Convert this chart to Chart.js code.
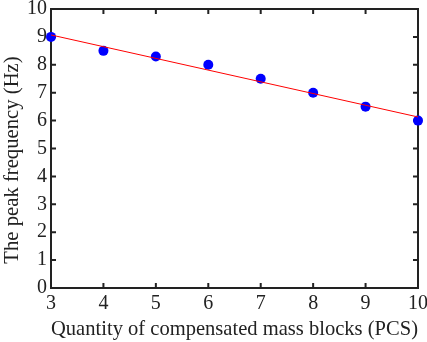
<!DOCTYPE html>
<html>
<head>
<meta charset="utf-8">
<script src="https://cdn.jsdelivr.net/npm/chart.js@4.4.0/dist/chart.umd.min.js"></script>
<style>
  html, body { margin: 0; padding: 0; background: #fff; }
  #wrap { width: 427px; height: 342px; }
</style>
</head>
<body>
<div id="wrap"><canvas id="chart"></canvas></div>
<script>
// measured points
const blocks = [3, 4, 5, 6, 7, 8, 9, 10]
const peakFreq = [9, 8.5, 8.3, 8, 7.5, 7, 6.5, 6]
// fitted line end points
const fitX = [3, 10]
const fitY = [9.07, 6.13]

const yTitle = 'The peak frequency (Hz)'
const serif = "'Liberation Serif', 'DejaVu Serif', serif"
const tickFont = { family: serif, size: 20 }
const titleFont = { family: serif, size: 20.7 }

// box around the plot with inward tick marks
const boxPlugin = {
  id: 'box',
  beforeDatasetsDraw(chart) {
    const { ctx, chartArea: a, scales } = chart
    ctx.save()
    ctx.strokeStyle = '#222'
    ctx.lineWidth = 2
    ctx.strokeRect(a.left, a.top, a.right - a.left, a.bottom - a.top)
    const len = 5
    ctx.beginPath()
    scales.x.ticks.forEach(t => {
      const px = scales.x.getPixelForValue(t.value)
      ctx.moveTo(px, a.bottom); ctx.lineTo(px, a.bottom - len)
      ctx.moveTo(px, a.top); ctx.lineTo(px, a.top + len)
    })
    scales.y.ticks.forEach(t => {
      const py = scales.y.getPixelForValue(t.value)
      ctx.moveTo(a.left, py); ctx.lineTo(a.left + len, py)
      ctx.moveTo(a.right, py); ctx.lineTo(a.right - len, py)
    })
    ctx.stroke()
    ctx.restore()
  },
  // y title sits a bit lower than the plot middle in the original
  afterDraw(chart) {
    const { ctx } = chart
    ctx.save()
    ctx.translate(13, 160)
    ctx.rotate(-Math.PI / 2)
    ctx.font = `${titleFont.size}px ${serif}`
    ctx.fillStyle = '#222'
    ctx.textAlign = 'center'
    ctx.textBaseline = 'middle'
    ctx.fillText(yTitle, 0, 0)
    ctx.restore()
  }
}

new Chart(document.getElementById('chart'), {
  type: 'scatter',
  data: {
    datasets: [
      {
        label: 'fit',
        data: fitX.map((x, i) => ({ x, y: fitY[i] })),
        showLine: true,
        borderColor: 'rgb(255, 0, 0)',
        borderWidth: 1,
        pointRadius: 0,
        clip: false,
      },
      {
        label: 'measured',
        data: blocks.map((x, i) => ({ x, y: peakFreq[i] })),
        backgroundColor: 'rgb(0, 0, 255)',
        borderColor: 'rgb(0, 0, 255)',
        pointRadius: 5,
        borderWidth: 0,
        clip: false,
      },
    ],
  },
  options: {
    responsive: true,
    maintainAspectRatio: false,
    animation: false,
    layout: { padding: { left: 0, right: 9, top: 9, bottom: 0 } },
    plugins: { legend: { display: false }, tooltip: { enabled: false } },
    scales: {
      x: {
        type: 'linear',
        min: 3,
        max: 10,
        afterFit: (s) => { s.height = 54; s.paddingLeft = 0; s.paddingRight = 0 },
        grid: { display: false, drawTicks: false },
        border: { display: false },
        ticks: { stepSize: 1, color: '#222', font: tickFont, padding: 4 },
        title: {
          display: true,
          text: 'Quantity of compensated mass blocks (PCS)',
          color: '#222',
          font: titleFont,
          padding: { top: 0, bottom: 0 },
        },
      },
      y: {
        min: 0,
        max: 10,
        afterFit: (s) => { s.width = 51; s.paddingTop = 0; s.paddingBottom = 0 },
        grid: { display: false, drawTicks: false },
        border: { display: false },
        ticks: { stepSize: 1, color: '#222', font: tickFont, padding: 4 },
        title: { display: false },
      },
    },
  },
  plugins: [boxPlugin],
})
</script>
</body>
</html>
